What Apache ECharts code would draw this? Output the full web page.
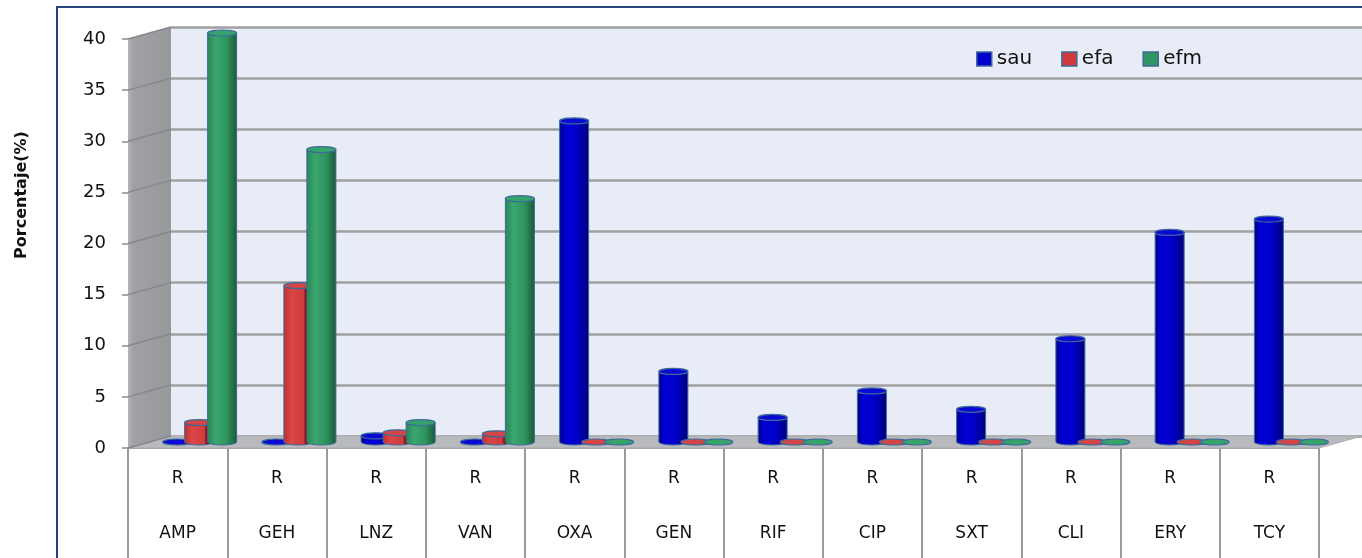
<!DOCTYPE html>
<html>
<head>
<meta charset="utf-8">
<title>Porcentaje de resistencia</title>
<script src="https://cdn.jsdelivr.net/npm/echarts@6/dist/echarts.min.js"></script>
<style>
  html, body { margin: 0; padding: 0; background: #ffffff; }
  #chart { width: 1362px; height: 558px; }
</style>
</head>
<body>
<div id="chart"></div>
<script>
// Antibiotics (lower label row) and the resistance row label above them
const categories = ['AMP', 'GEH', 'LNZ', 'VAN', 'OXA', 'GEN', 'RIF', 'CIP', 'SXT', 'CLI', 'ERY', 'TCY'];
const rowLabel = 'R';

// Percentage of resistant isolates per species
const sau = [0, 0, 0.6, 0, 31.4, 6.9, 2.4, 5.0, 3.2, 10.1, 20.5, 21.8];
const efa = [1.9, 15.3, 0.9, 0.8, 0, 0, 0, 0, 0, 0, 0, 0];
const efm = [40, 28.6, 1.9, 23.8, 0, 0, 0, 0, 0, 0, 0, 0];

const seriesNames = ['sau', 'efa', 'efm'];
const yTicks = [0, 5, 10, 15, 20, 25, 30, 35, 40];
const yMax = 40;
const yStep = 5;

// Pseudo-3D layout: front plane, back wall, and the mid plane the cylinders stand on
const FRONT = { left: 128, top: 39, width: 1191, height: 409 };
const DEPTH_X = 43, DEPTH_Y = 12;
const BAR_W = 29, BAR_RY = 3;
const OUTLINE = '#3d6a9b';

const palette = {
  sau: { flat: '#0000cc', top: '#0a0ad2',
         stops: [[0, '#00008c'], [0.22, '#0000d6'], [0.6, '#0000c8'], [0.85, '#00009a'], [1, '#000078']] },
  efa: { flat: '#d03a3a', top: '#d44545',
         stops: [[0, '#c03030'], [0.25, '#db4646'], [0.68, '#cf3c3c'], [0.74, '#8c1414'], [1, '#6a0a0a']] },
  efm: { flat: '#2e9763', top: '#36a36b',
         stops: [[0, '#2a8656'], [0.28, '#3aa66e'], [0.65, '#2f955f'], [1, '#1b5a38']] }
};
const clusterOffset = { sau: -22, efa: 0, efm: 23 };

function grad(stops) {
  return new echarts.graphic.LinearGradient(0, 0, 1, 0,
    stops.map(s => ({ offset: s[0], color: s[1] })));
}

function ellipsePath(cx, cy, rx, ry) {
  return 'M' + (cx - rx) + ' ' + cy +
    ' A' + rx + ' ' + ry + ' 0 1 0 ' + (cx + rx) + ' ' + cy +
    ' A' + rx + ' ' + ry + ' 0 1 0 ' + (cx - rx) + ' ' + cy + ' Z';
}

function cylinderRenderer(name) {
  const pal = palette[name];
  const off = clusterOffset[name];
  return function (params, api) {
    const idx = api.value(0);
    const v = api.value(1);
    const top = api.coord([idx, v]);
    const base = api.coord([idx, 0]);
    const cx = top[0] + off;
    const rx = BAR_W / 2;
    const children = [];
    const h = base[1] - top[1];
    if (h > 0.5) {
      children.push({
        type: 'path',
        shape: { pathData: ellipsePath(cx, base[1], rx, BAR_RY) },
        style: { fill: grad(pal.stops), stroke: OUTLINE, lineWidth: 1 }
      });
      children.push({
        type: 'rect',
        shape: { x: cx - rx, y: top[1], width: BAR_W, height: h },
        style: { fill: grad(pal.stops) }
      });
      children.push({
        type: 'line',
        shape: { x1: cx - rx, y1: top[1], x2: cx - rx, y2: base[1] },
        style: { stroke: OUTLINE, lineWidth: 1 }
      });
      children.push({
        type: 'line',
        shape: { x1: cx + rx, y1: top[1], x2: cx + rx, y2: base[1] },
        style: { stroke: OUTLINE, lineWidth: 1 }
      });
    }
    children.push({
      type: 'path',
      shape: { pathData: ellipsePath(cx, top[1], rx, BAR_RY) },
      style: { fill: pal.top, stroke: OUTLINE, lineWidth: 1.2 }
    });
    return { type: 'group', children: children };
  };
}

// Side wall and floor, built on the back-wall coordinate system
function wallRenderer(params, api) {
  const c0 = api.coord([0, 0]);
  const band = api.size([1, 0])[0];
  const bx = c0[0] - band / 2;
  const by0 = c0[1];
  const byTop = api.coord([0, yMax])[1];
  const W = band * categories.length;
  return {
    type: 'group',
    children: [
      {
        type: 'polygon',
        shape: { points: [[bx, byTop], [bx, by0], [bx - DEPTH_X, by0 + DEPTH_Y], [bx - DEPTH_X, byTop + DEPTH_Y]] },
        style: {
          fill: new echarts.graphic.LinearGradient(0, 0, 1, 0, [
            { offset: 0, color: '#b3b5b8' }, { offset: 0.12, color: '#9fa1a5' }, { offset: 1, color: '#96989c' }
          ])
        }
      },
      {
        type: 'polygon',
        shape: { points: [[bx, by0], [bx + W, by0], [bx + W - DEPTH_X, by0 + DEPTH_Y], [bx - DEPTH_X, by0 + DEPTH_Y]] },
        style: { fill: '#b8babd', stroke: '#a9abae', lineWidth: 1 }
      }
    ]
  };
}

function sideGridRenderer(params, api) {
  const c0 = api.coord([0, api.value(0)]);
  const band = api.size([1, 0])[0];
  const bx = c0[0] - band / 2;
  const by = c0[1];
  return {
    type: 'line',
    shape: { x1: bx, y1: by, x2: bx - DEPTH_X, y2: by + DEPTH_Y },
    style: { stroke: '#858789', lineWidth: 1.5 }
  };
}

const chart = echarts.init(document.getElementById('chart'), null, { renderer: 'canvas' });

const hiddenCat = (gi) => ({
  type: 'category', gridIndex: gi, data: categories, boundaryGap: true,
  axisLine: { show: false }, axisTick: { show: false }, axisLabel: { show: false }, splitLine: { show: false }
});
const hiddenVal = (gi, split) => ({
  type: 'value', gridIndex: gi, min: 0, max: yMax, interval: yStep,
  axisLine: { show: false }, axisTick: { show: false }, axisLabel: { show: false },
  splitLine: split ? { show: true, lineStyle: { color: '#a0a0a0', width: 2.5 } } : { show: false }
});

const seriesData = { sau: sau, efa: efa, efm: efm };

chart.setOption({
  animation: false,
  backgroundColor: '#ffffff',
  textStyle: { fontFamily: 'DejaVu Sans' },
  grid: [
    { left: FRONT.left, top: FRONT.top, width: FRONT.width, height: FRONT.height, outerBoundsMode: 'none' },
    { left: FRONT.left + DEPTH_X, top: FRONT.top - DEPTH_Y, width: FRONT.width, height: FRONT.height,
      show: true, backgroundColor: '#e8ecf6', borderWidth: 0, outerBoundsMode: 'none' },
    { left: FRONT.left + DEPTH_X / 2, top: FRONT.top - DEPTH_Y / 2, width: FRONT.width, height: FRONT.height,
      outerBoundsMode: 'none' }
  ],
  legend: {
    data: seriesNames,
    left: 971, top: 44,
    icon: 'rect', itemWidth: 15, itemHeight: 14, itemGap: 29,
    itemStyle: { borderColor: OUTLINE, borderWidth: 1.5 },
    textStyle: { fontFamily: 'DejaVu Sans', fontSize: 20, color: '#111111' }
  },
  xAxis: [
    {
      type: 'category', gridIndex: 0, data: categories, boundaryGap: true,
      axisLine: { show: true, lineStyle: { color: '#a2a2a2', width: 2 } },
      axisTick: { show: true, interval: 0, length: 112, lineStyle: { color: '#9c9c9c', width: 2 } },
      axisLabel: {
        interval: 0, margin: 3,
        formatter: (v) => '{r|' + rowLabel + '}\n{c|' + v + '}',
        rich: {
          r: { fontFamily: 'DejaVu Sans', fontSize: 17, lineHeight: 55, color: '#111111' },
          c: { fontFamily: 'DejaVu Sans', fontSize: 17, lineHeight: 55, color: '#111111' }
        }
      },
      splitLine: { show: false }
    },
    hiddenCat(1),
    hiddenCat(2)
  ],
  yAxis: [
    {
      type: 'value', gridIndex: 0, min: 0, max: yMax, interval: yStep,
      axisLine: { show: false },
      axisTick: { show: true, length: 6, lineStyle: { color: '#8c8c8c', width: 1.5 } },
      axisLabel: { margin: 22, fontFamily: 'DejaVu Sans', fontSize: 18, color: '#111111' },
      splitLine: { show: false }
    },
    hiddenVal(1, true),
    hiddenVal(2, false)
  ],
  graphic: [
    {
      type: 'rect', silent: true,
      shape: { x: 57, y: 7, width: 1400, height: 620 },
      style: { fill: null, stroke: '#26437a', lineWidth: 2 }
    },
    {
      type: 'text', silent: true,
      x: 22, y: 195, rotation: Math.PI / 2,
      style: {
        text: 'Porcentaje(%)', font: 'bold 16px "DejaVu Sans"', fill: '#111111',
        textAlign: 'center', textVerticalAlign: 'middle', align: 'center', verticalAlign: 'middle'
      }
    }
  ],
  series: [
    {
      type: 'custom', name: 'walls', xAxisIndex: 1, yAxisIndex: 1, z: 2, silent: true, clip: false,
      data: [[0]], renderItem: wallRenderer
    },
    {
      type: 'custom', name: 'sidegrid', xAxisIndex: 1, yAxisIndex: 1, z: 2, silent: true, clip: false,
      data: yTicks.map(t => [t]), renderItem: sideGridRenderer
    }
  ].concat(seriesNames.map(name => ({
    type: 'custom', name: name, xAxisIndex: 2, yAxisIndex: 2, z: 3, clip: false,
    itemStyle: { color: palette[name].flat },
    data: seriesData[name].map((v, i) => [i, v]),
    encode: { x: 0, y: 1 },
    renderItem: cylinderRenderer(name)
  })))
});
</script>
</body>
</html>
